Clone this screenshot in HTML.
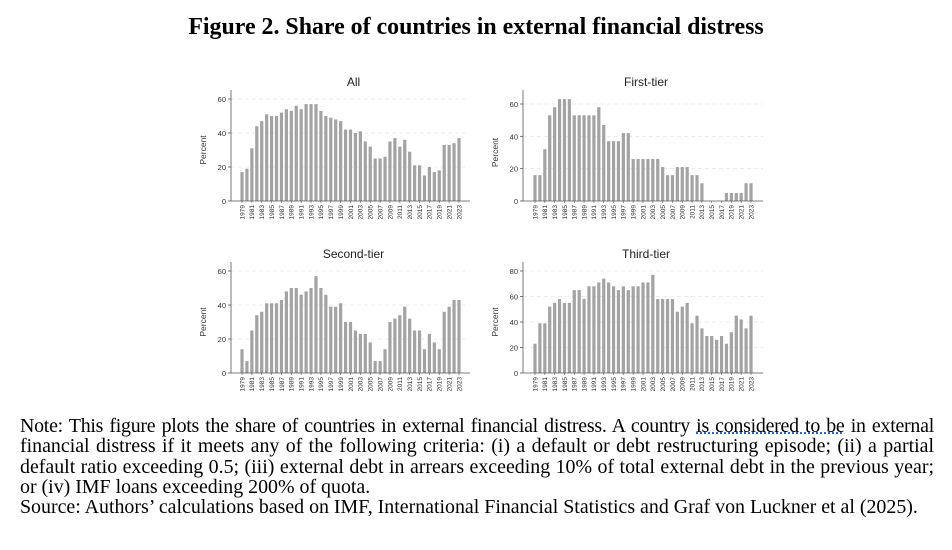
<!DOCTYPE html>
<html><head><meta charset="utf-8">
<style>
body{margin:0;background:#fff;width:952px;height:550px;overflow:hidden;position:relative;font-family:"Liberation Serif",serif}
#title{position:absolute;top:14px;left:0;width:952px;text-align:center;font-weight:bold;font-size:23.9px;white-space:nowrap}
#note{position:absolute;left:20px;top:416px;width:914px;font-size:19.9px;line-height:20.3px;color:#000}
#note div{white-space:nowrap}
#note .j{text-align:justify;text-align-last:justify;white-space:normal}
#note .first{letter-spacing:-0.25px}
.u{text-decoration:underline dotted #3060c0}
svg{position:absolute;left:0;top:0}
</style></head><body>
<div id="title">Figure 2. Share of countries in external financial distress</div>
<svg id="chart" width="952" height="410"></svg>
<div id="note">
<div class="j first">Note: This figure plots the share of countries in external financial distress. A country <span class="u">is considered to be</span> in external</div>
<div class="j">financial distress if it meets any of the following criteria: (i) a default or debt restructuring episode; (ii) a partial</div>
<div class="j">default ratio exceeding 0.5; (iii) external debt in arrears exceeding 10% of total external debt in the previous year;</div>
<div>or (iv) IMF loans exceeding 200% of quota.</div>
<div>Source: Authors’ calculations based on IMF, International Financial Statistics and Graf von Luckner et al (2025).</div>
</div>
<script>
const years = [];
for (let y = 1979; y <= 2023; y++) years.push(y);
const allValues = [17,19,31,44,47,51,50,50,52,54,53,56,54,57,57,57,53,50,49,48,47,42,42,40,41,35,32,25,25,26,35,37,32,36,29,21,21,15,20,17,18,33,33,34,37];
const firstTierValues = [16,16,32,53,58,63,63,63,53,53,53,53,53,58,47,37,37,37,42,42,26,26,26,26,26,26,21,16,16,21,21,21,16,16,11,0,0,0,0,5,5,5,5,11,11];
const secondTierValues = [14,7,25,34,36,41,41,41,43,48,50,50,46,48,50,57,50,46,39,39,41,30,30,25,23,23,18,7,7,14,30,32,34,39,32,25,25,14,23,18,14,36,39,43,43];
const thirdTierValues = [23,39,39,52,55,58,55,55,65,65,58,68,68,71,74,71,68,65,68,65,68,68,71,71,77,58,58,58,58,48,52,55,39,45,35,29,29,26,29,23,32,45,42,35,45];
const ticks60 = [0,20,40,60];
const ticks80 = [0,20,40,60,80];

const NS = "http://www.w3.org/2000/svg";
const svg = document.getElementById('chart');
function mk(tag, attrs, parent){
  const e = document.createElementNS(NS, tag);
  for (const k in attrs) e.setAttribute(k, attrs[k]);
  (parent||svg).appendChild(e); return e;
}
const panels = [
  {name:'all', title:'All', vals:allValues, ticks:ticks60, ax:231, y0:201, topVal:60, topY:99, b0:242, b1:459, xend:470, ytop:90},
  {name:'first-tier', title:'First-tier', vals:firstTierValues, ticks:ticks60, ax:523, y0:201, topVal:60, topY:104, b0:535, b1:751, xend:763, ytop:90},
  {name:'second-tier', title:'Second-tier', vals:secondTierValues, ticks:ticks60, ax:231, y0:373, topVal:60, topY:271, b0:242, b1:459, xend:470, ytop:262},
  {name:'third-tier', title:'Third-tier', vals:thirdTierValues, ticks:ticks80, ax:523, y0:373, topVal:80, topY:271, b0:535, b1:751, xend:763, ytop:262}
];
panels.forEach(p => {
  const g = mk('g', {});
  
  
  const yS = v => p.y0 - (v / p.topVal) * (p.y0 - p.topY);
  const step = (p.b1 - p.b0) / (years.length - 1);
  const xS = i => p.b0 + i * step;
  const t = mk('text', {x:(p.ax + p.xend)/2 + 3, y:p.ytop - 4, 'text-anchor':'middle', 'font-family':'Liberation Sans, sans-serif', 'font-size':'12', fill:'#222'}, g);
  t.textContent = p.title;
  
  
  p.ticks.forEach(v => {
    const y = yS(v);
    if (v > 0) mk('line', {x1:p.ax, x2:p.xend, y1:y, y2:y, stroke:'#e6e6e6', 'stroke-width':0.8, 'stroke-dasharray':'4,3'}, g);
    mk('line', {x1:p.ax-3, x2:p.ax, y1:y, y2:y, stroke:'#555', 'stroke-width':0.8}, g);
    const tl = mk('text', {x:p.ax-5, y:y+3, 'text-anchor':'end', 'font-family':'Liberation Sans, sans-serif', 'font-size':'7.5', fill:'#333'}, g);
    tl.textContent = v;
    
    
  });
  p.vals.forEach((v, i) => {
    const x = xS(i), y = yS(v);
    const r = mk('rect', {x:x-1.6, y:y, width:3.2, height:p.y0 - y, fill:'#a3a3a3'}, g);
    
    
  });
  mk('line', {x1:p.ax, x2:p.ax, y1:p.ytop, y2:p.y0, stroke:'#555', 'stroke-width':0.8}, g);
  mk('line', {x1:p.ax, x2:p.xend, y1:p.y0, y2:p.y0, stroke:'#555', 'stroke-width':0.8}, g);
  years.forEach((yr, i) => {
    if (i % 2) return;
    const x = xS(i);
    mk('line', {x1:x, x2:x, y1:p.y0, y2:p.y0+2, stroke:'#555', 'stroke-width':0.6}, g);
    const xl = mk('text', {x:0, y:0, transform:`translate(${x+2.3},${p.y0+4}) rotate(-90)`, 'text-anchor':'end', 'font-family':'Liberation Sans, sans-serif', 'font-size':'6.5', fill:'#333'}, g);
    xl.textContent = yr;
    
    
  });
  const yt = mk('text', {x:0, y:0, transform:`translate(${p.ax-25},${(p.y0+p.topY)/2}) rotate(-90)`, 'text-anchor':'middle', 'font-family':'Liberation Sans, sans-serif', 'font-size':'8.5', fill:'#333'}, g);
  yt.textContent = 'Percent';
  
  
});
</script>
</body></html>
